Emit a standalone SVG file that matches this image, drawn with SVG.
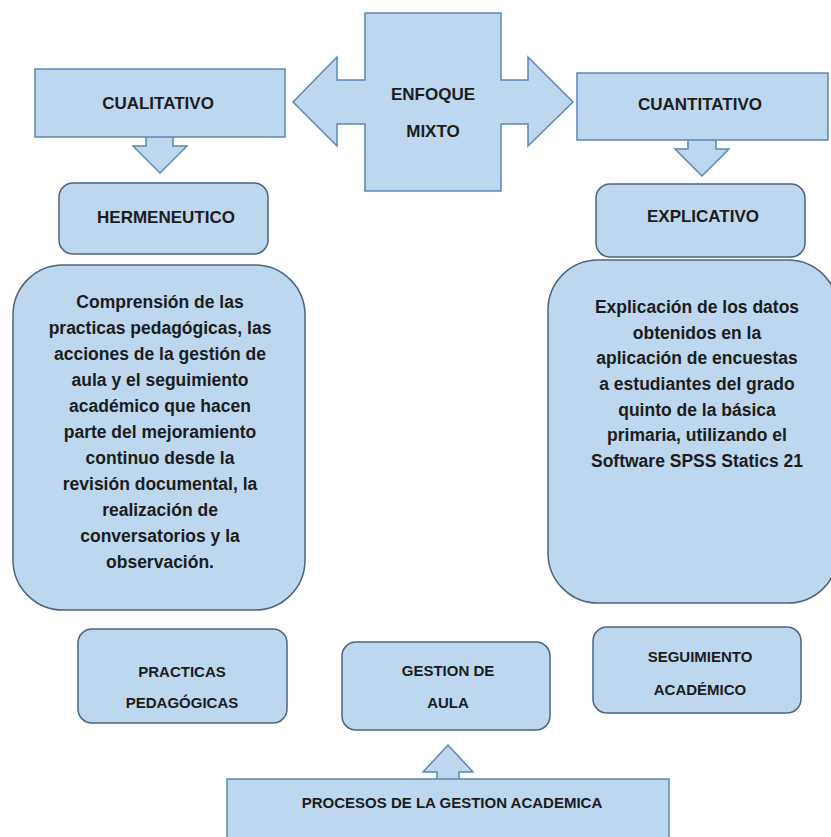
<svg xmlns="http://www.w3.org/2000/svg" width="831" height="837" viewBox="0 0 831 837">
<style>
.arr{fill:#bdd7ee;stroke:#5b87b5;stroke-width:1.5;stroke-linejoin:miter}
.box{fill:#bdd7ee;stroke:#4d6480;stroke-width:1.5}
text{font-family:"Liberation Sans",Arial,sans-serif;font-weight:bold;fill:#1c1c1c;text-anchor:middle}
.h{font-size:17px}
.s{font-size:15px}
.b{font-size:17.5px}
</style>
<rect width="831" height="837" fill="#ffffff"/>
<g id="connectors">
<path class="arr" d="M146,137 L146,146 L133,146 L160,173 L187,146 L173,146 L173,137"/>
<path class="arr" d="M688,140 L688,149 L675,149 L702,176 L729,149 L716,149 L716,140"/>
<path class="arr" d="M437,779 L437,772 L423,772 L448,745 L473,772 L459,772 L459,779"/>
</g>
<g id="enfoque">
<path class="arr" d="M365,13 L501,13 L501,80 L528,80 L528,57 L573,102 L528,146 L528,124 L501,124 L501,191 L365,191 L365,124 L337,124 L337,146 L293,102 L337,57 L337,80 L365,80 Z"/>
<text class="h" x="433" y="100">ENFOQUE</text>
<text class="h" x="433" y="137">MIXTO</text>
</g>
<g id="cualitativo">
<rect class="arr" x="35" y="69" width="250" height="68"/>
<text class="h" x="158" y="109">CUALITATIVO</text>
</g>
<g id="cuantitativo">
<rect class="arr" x="577" y="73" width="251" height="67"/>
<text class="h" x="700" y="110">CUANTITATIVO</text>
</g>
<g id="hermeneutico">
<rect class="box" x="59" y="183" width="209" height="71" rx="14"/>
<text class="h" x="166" y="223">HERMENEUTICO</text>
</g>
<g id="explicativo">
<rect class="box" x="596" y="184" width="209" height="73" rx="14"/>
<text class="h" x="703" y="222">EXPLICATIVO</text>
</g>
<g id="comprension">
<rect class="box" x="13" y="265" width="292" height="345" rx="50"/>
<text class="b" x="160" y="308">Comprensión de las</text>
<text class="b" x="160" y="334">practicas pedagógicas, las</text>
<text class="b" x="160" y="360">acciones de la gestión de</text>
<text class="b" x="160" y="386">aula y el seguimiento</text>
<text class="b" x="160" y="412">académico que hacen</text>
<text class="b" x="160" y="438">parte del mejoramiento</text>
<text class="b" x="160" y="464">continuo desde la</text>
<text class="b" x="160" y="490">revisión documental, la</text>
<text class="b" x="160" y="516">realización de</text>
<text class="b" x="160" y="542">conversatorios y la</text>
<text class="b" x="160" y="568">observación.</text>
</g>
<g id="explicacion">
<rect class="box" x="548" y="260" width="290" height="343" rx="50"/>
<text class="b" x="697" y="313">Explicación de los datos</text>
<text class="b" x="697" y="339">obtenidos en la</text>
<text class="b" x="697" y="364">aplicación de encuestas</text>
<text class="b" x="697" y="390">a estudiantes del grado</text>
<text class="b" x="697" y="416">quinto de la básica</text>
<text class="b" x="697" y="441">primaria, utilizando el</text>
<text class="b" x="697" y="467">Software SPSS Statics 21</text>
</g>
<g id="practicas">
<rect class="box" x="78" y="629" width="209" height="94" rx="14"/>
<text class="s" x="182" y="677">PRACTICAS</text>
<text class="s" x="182" y="708">PEDAGÓGICAS</text>
</g>
<g id="gestion-aula">
<rect class="box" x="342" y="642" width="208" height="88" rx="14"/>
<text class="s" x="448" y="676">GESTION DE</text>
<text class="s" x="448" y="708">AULA</text>
</g>
<g id="seguimiento">
<rect class="box" x="593" y="627" width="208" height="86" rx="14"/>
<text class="s" x="700" y="662">SEGUIMIENTO</text>
<text class="s" x="700" y="695">ACADÉMICO</text>
</g>
<g id="procesos">
<rect class="arr" x="227" y="779" width="442" height="70"/>
<text class="s" x="452" y="808">PROCESOS DE LA GESTION ACADEMICA</text>
</g>
</svg>
